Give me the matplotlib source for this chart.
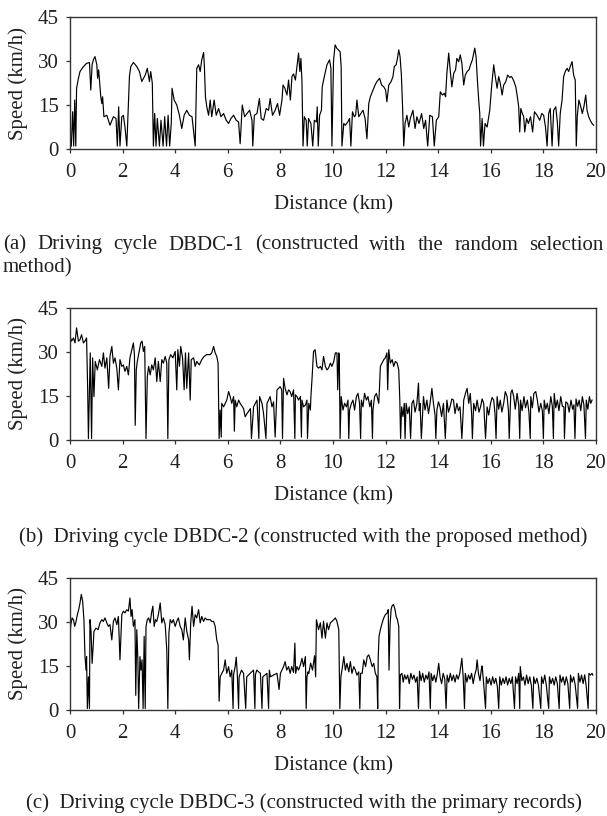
import matplotlib
matplotlib.use("Agg")
import matplotlib.pyplot as plt
import numpy as np

plt.rcParams['font.family'] = ['Liberation Serif', 'DejaVu Serif']

TEXT = '#231f20'
FS = 15

# DBDC-1: random selection method (distance km, speed km/h)
dist_1 = [0.05, 0.10, 0.14, 0.18, 0.22, 0.25, 0.32, 0.38, 0.51, 0.63,
          0.74, 0.79, 0.84, 0.89, 0.95, 1.02, 1.05, 1.09, 1.12, 1.17,
          1.21, 1.24, 1.29, 1.40, 1.52, 1.65, 1.75, 1.80, 1.85, 1.90,
          1.97, 2.03, 2.09, 2.16, 2.22, 2.26, 2.31, 2.41, 2.54, 2.64,
          2.73, 2.86, 2.94, 3.02, 3.07, 3.13, 3.17, 3.22, 3.27, 3.32,
          3.40, 3.46, 3.54, 3.60, 3.67, 3.73, 3.79, 3.85, 3.88, 3.96,
          4.06, 4.16, 4.25, 4.34, 4.44, 4.54, 4.64, 4.76, 4.82, 4.89,
          4.95, 5.01, 5.08, 5.11, 5.15, 5.20, 5.27, 5.33, 5.39, 5.48,
          5.56, 5.65, 5.74, 5.84, 5.94, 6.03, 6.12, 6.22, 6.32, 6.41,
          6.47, 6.55, 6.64, 6.73, 6.83, 6.92, 6.95, 7.01, 7.11, 7.20,
          7.27, 7.36, 7.46, 7.55, 7.61, 7.70, 7.80, 7.89, 7.97, 8.06,
          8.10, 8.17, 8.25, 8.31, 8.38, 8.44, 8.50, 8.57, 8.63, 8.69,
          8.74, 8.78, 8.82, 8.86, 8.91, 8.98, 9.02, 9.07, 9.16, 9.23,
          9.29, 9.37, 9.40, 9.44, 9.49, 9.56, 9.59, 9.67, 9.77, 9.87,
          9.92, 9.96, 10.02, 10.08, 10.14, 10.20, 10.27, 10.31, 10.34, 10.41,
          10.47, 10.56, 10.63, 10.68, 10.74, 10.81, 10.86, 10.91, 10.98, 11.06,
          11.14, 11.22, 11.29, 11.36, 11.42, 11.52, 11.60, 11.67, 11.77, 11.85,
          11.93, 12.00, 12.05, 12.12, 12.21, 12.28, 12.33, 12.40, 12.45, 12.50,
          12.55, 12.60, 12.65, 12.69, 12.74, 12.81, 12.88, 12.94, 13.04, 13.12,
          13.19, 13.27, 13.37, 13.45, 13.52, 13.60, 13.68, 13.78, 13.85, 13.93,
          14.02, 14.08, 14.16, 14.23, 14.28, 14.33, 14.40, 14.46, 14.52, 14.59,
          14.66, 14.71, 14.78, 14.84, 14.90, 14.97, 15.03, 15.10, 15.17, 15.23,
          15.30, 15.35, 15.39, 15.44, 15.49, 15.54, 15.58, 15.61, 15.67, 15.72,
          15.78, 15.86, 15.96, 16.03, 16.11, 16.17, 16.24, 16.30, 16.36, 16.43,
          16.49, 16.57, 16.64, 16.72, 16.79, 16.87, 16.95, 17.01, 17.06, 17.10,
          17.14, 17.20, 17.25, 17.29, 17.36, 17.43, 17.51, 17.59, 17.66, 17.76,
          17.86, 17.94, 18.01, 18.08, 18.14, 18.20, 18.26, 18.33, 18.39, 18.47,
          18.53, 18.58, 18.64, 18.71, 18.77, 18.83, 18.90, 18.96, 19.02, 19.09,
          19.15, 19.21, 19.25, 19.29, 19.35, 19.42, 19.48, 19.54, 19.61, 19.66,
          19.72, 19.78, 19.85, 19.91]
speed_1 = [1, 12.7, 1, 16.7, 1, 20.7, 24.1, 26.4, 28.1, 29.2,
           29.5, 20.1, 28.7, 30.4, 31.5, 28.7, 24.1, 27.0, 23.5, 17.8,
           15.5, 17.8, 11.0, 11.5, 8.1, 11.0, 10.4, 1, 14.4, 1,
           11.0, 11.5, 7.5, 1, 15.5, 24.7, 28.1, 29.5, 28.1, 26.4,
           23.0, 25.2, 27.5, 23.0, 26.4, 22.4, 1, 12.1, 1, 10.4,
           1, 9.8, 1, 11.0, 1, 11.5, 1, 8.7, 20.7, 16.7,
           15.0, 11.5, 7.0, 11.5, 13.2, 11.5, 11.0, 1, 27.5, 28.7,
           26.4, 30.4, 32.9, 28.1, 17.8, 14.4, 11.5, 16.7, 11.0, 16.7,
           11.5, 13.8, 11.0, 12.1, 9.8, 8.7, 10.4, 11.5, 9.8, 9.2,
           1.8, 15.0, 11.0, 12.1, 13.2, 9.8, 1, 11.5, 12.1, 17.2,
           10.4, 9.8, 13.8, 13.2, 17.2, 11.5, 13.2, 15.5, 11.5, 16.7,
           21.8, 20.7, 18.4, 23.5, 16.7, 24.7, 25.6, 23.5, 28.1, 32.7,
           26.4, 30.9, 23.0, 1, 11.0, 9.8, 1, 10.4, 8.7, 1,
           9.8, 9.2, 14.4, 1, 11.5, 13.2, 21.2, 24.7, 28.7, 30.4,
           27.5, 1, 30.0, 35.5, 34.4, 33.8, 33.2, 28.1, 1, 8.7,
           8.1, 9.2, 10.4, 1, 12.7, 11.0, 11.5, 16.7, 11.0, 12.1,
           13.2, 10.4, 3.5, 15.5, 17.8, 20.1, 21.8, 23.0, 24.1, 21.8,
           21.2, 20.1, 16.1, 21.8, 23.0, 24.7, 28.1, 28.7, 30.9, 33.8,
           31.5, 25.2, 13.2, 1, 8.7, 11.5, 7.5, 10.4, 13.2, 7.0,
           11.0, 8.7, 12.1, 7.0, 9.8, 1, 11.5, 11.0, 1, 9.8,
           11.0, 19.5, 18.4, 19.0, 17.8, 25.8, 32.7, 26.4, 21.2, 25.8,
           27.0, 30.9, 29.8, 32.1, 29.2, 21.8, 25.2, 26.4, 27.0, 28.7,
           30.4, 32.7, 34.4, 31.5, 23.5, 16.7, 12.1, 1, 10.4, 1,
           8.7, 7.5, 13.2, 21.2, 28.7, 24.7, 20.7, 24.7, 22.4, 18.4,
           21.8, 23.0, 25.2, 24.4, 24.7, 23.3, 21.2, 17.8, 14.4, 5.8,
           13.8, 12.1, 11.0, 5.8, 10.4, 8.7, 11.0, 5.8, 12.7, 11.5,
           9.8, 12.1, 11.5, 7.5, 1, 12.1, 13.8, 1, 13.2, 14.4,
           9.2, 1, 12.1, 16.7, 24.7, 26.4, 27.5, 26.4, 28.1, 29.8,
           25.2, 23.5, 1, 11.5, 16.7, 14.4, 12.1, 14.4, 18.4, 13.2,
           11.0, 9.8, 8.7, 8.1]

# DBDC-2: proposed method
dist_2 = [0.02, 0.06, 0.13, 0.19, 0.25, 0.32, 0.38, 0.44, 0.51, 0.57,
          0.63, 0.67, 0.70, 0.74, 0.77, 0.82, 0.86, 0.91, 0.96, 1.04,
          1.12, 1.21, 1.27, 1.33, 1.40, 1.47, 1.52, 1.59, 1.65, 1.71,
          1.78, 1.84, 1.90, 1.97, 2.03, 2.09, 2.16, 2.22, 2.28, 2.35,
          2.41, 2.45, 2.48, 2.52, 2.56, 2.64, 2.69, 2.74, 2.79, 2.84,
          2.89, 2.94, 2.99, 3.05, 3.11, 3.17, 3.24, 3.30, 3.36, 3.43,
          3.49, 3.55, 3.62, 3.68, 3.72, 3.76, 3.83, 3.91, 4.00, 4.06,
          4.10, 4.16, 4.21, 4.28, 4.34, 4.39, 4.44, 4.51, 4.57, 4.61,
          4.70, 4.76, 4.82, 4.92, 5.01, 5.10, 5.20, 5.33, 5.39, 5.46,
          5.52, 5.58, 5.63, 5.67, 5.71, 5.75, 5.77, 5.84, 5.96, 6.03,
          6.09, 6.15, 6.22, 6.25, 6.28, 6.34, 6.41, 6.47, 6.60, 6.66,
          6.73, 6.86, 6.90, 6.98, 7.11, 7.18, 7.21, 7.30, 7.36, 7.45,
          7.49, 7.55, 7.61, 7.68, 7.74, 7.80, 7.87, 7.93, 7.99, 8.05,
          8.08, 8.12, 8.18, 8.25, 8.31, 8.37, 8.43, 8.50, 8.55, 8.57,
          8.63, 8.69, 8.76, 8.80, 8.82, 8.88, 8.95, 9.01, 9.03, 9.08,
          9.14, 9.16, 9.20, 9.26, 9.32, 9.39, 9.45, 9.52, 9.58, 9.64,
          9.71, 9.77, 9.83, 9.90, 9.96, 10.03, 10.09, 10.15, 10.18, 10.22,
          10.24, 10.27, 10.31, 10.38, 10.44, 10.51, 10.57, 10.60, 10.63, 10.70,
          10.76, 10.82, 10.89, 10.95, 11.01, 11.05, 11.08, 11.14, 11.20, 11.27,
          11.33, 11.40, 11.46, 11.50, 11.52, 11.58, 11.65, 11.74, 11.77, 11.80,
          11.86, 11.93, 11.99, 12.05, 12.08, 12.12, 12.18, 12.25, 12.31, 12.37,
          12.44, 12.50, 12.54, 12.57, 12.61, 12.66, 12.71, 12.74, 12.78, 12.84,
          12.90, 12.95, 13.00, 13.06, 13.12, 13.19, 13.25, 13.28, 13.31, 13.36,
          13.44, 13.50, 13.57, 13.63, 13.69, 13.76, 13.82, 13.88, 13.91, 13.95,
          14.01, 14.07, 14.13, 14.20, 14.27, 14.33, 14.39, 14.45, 14.52, 14.58,
          14.64, 14.71, 14.77, 14.83, 14.90, 14.97, 15.04, 15.10, 15.16, 15.22,
          15.27, 15.30, 15.35, 15.42, 15.48, 15.55, 15.61, 15.67, 15.73, 15.80,
          15.86, 15.92, 15.99, 16.05, 16.11, 16.16, 16.20, 16.24, 16.30, 16.36,
          16.42, 16.49, 16.55, 16.62, 16.67, 16.70, 16.76, 16.81, 16.87, 16.93,
          17.00, 17.06, 17.10, 17.13, 17.19, 17.26, 17.32, 17.39, 17.45, 17.50,
          17.52, 17.58, 17.64, 17.71, 17.77, 17.83, 17.90, 17.96, 18.00, 18.03,
          18.09, 18.15, 18.21, 18.28, 18.34, 18.38, 18.41, 18.47, 18.53, 18.59,
          18.66, 18.72, 18.78, 18.80, 18.85, 18.92, 18.98, 19.05, 19.11, 19.16,
          19.20, 19.24, 19.30, 19.36, 19.42, 19.48, 19.54, 19.60, 19.63, 19.69,
          19.75, 19.80, 19.85]
speed_2 = [34.8, 33.7, 34.8, 33.1, 38.2, 33.7, 34.2, 35.9, 33.1, 33.7,
           34.8, 18.2, 0.5, 17.6, 29.7, 0.5, 28.0, 14.8, 26.8, 23.9,
           27.4, 25.1, 29.7, 24.5, 28.0, 17.6, 28.5, 31.9, 26.2, 28.0,
           24.5, 17.1, 27.4, 25.1, 25.6, 23.4, 25.1, 22.2, 28.0, 30.8,
           33.1, 29.1, 5.0, 24.0, 26.8, 30.8, 33.1, 33.7, 30.2, 31.9,
           0.5, 21.6, 25.1, 22.2, 25.6, 23.9, 28.0, 19.9, 26.8, 19.9,
           27.4, 26.2, 28.5, 26.2, 0.5, 27.4, 29.1, 28.0, 30.2, 17.1,
           30.8, 25.1, 31.9, 28.0, 17.1, 29.7, 17.6, 29.7, 13.6, 27.4,
           28.0, 25.1, 26.8, 25.6, 27.4, 28.5, 29.1, 29.1, 29.7, 31.9,
           29.7, 28.5, 26.2, 0.5, 10.2, 1.0, 12.5, 11.3, 13.6, 16.5,
           14.8, 12.5, 14.8, 3.0, 13.6, 11.3, 13.6, 12.5, 10.7, 7.9,
           9.0, 10.7, 0.5, 11.3, 13.6, 0.5, 14.8, 12.5, 9.0, 0.5,
           12.5, 13.6, 14.8, 11.3, 13.0, 1.0, 17.1, 17.6, 18.2, 17.1,
           0.5, 21.0, 17.6, 15.4, 17.1, 16.5, 14.8, 17.1, 0.5, 15.4,
           14.8, 13.6, 14.8, 1.0, 13.6, 11.3, 11.9, 13.6, 0.5, 12.5,
           10.2, 14.8, 20.5, 30.2, 30.8, 25.1, 24.5, 25.1, 23.9, 28.5,
           25.1, 23.9, 24.5, 26.2, 25.1, 26.8, 29.7, 29.7, 17.1, 29.7,
           28.5, 0.5, 14.8, 10.2, 12.5, 11.3, 13.6, 0.5, 10.2, 12.5,
           13.6, 10.2, 14.8, 15.9, 12.5, 0.5, 13.6, 11.3, 15.9, 13.6,
           14.8, 11.3, 13.6, 0.5, 10.2, 14.8, 15.9, 12.5, 18.2, 25.1,
           26.2, 27.4, 28.0, 29.7, 17.1, 30.8, 26.2, 27.4, 25.1, 26.8,
           26.2, 23.9, 13.6, 0.5, 11.3, 8.0, 12.5, 0.5, 12.5, 9.0,
           11.3, 0.5, 12.5, 13.6, 9.5, 12.5, 19.4, 10.0, 12.5, 0.5,
           14.8, 10.2, 13.6, 9.0, 12.5, 17.6, 12.5, 8.5, 0.5, 10.2,
           13.0, 11.3, 8.0, 12.5, 0.5, 13.6, 9.5, 11.3, 14.0, 13.6,
           9.0, 12.5, 10.0, 11.3, 0.5, 13.6, 16.0, 17.6, 12.5, 15.9,
           9.0, 0.5, 12.5, 10.0, 13.6, 9.5, 11.3, 14.0, 12.5, 0.5,
           11.3, 8.5, 12.5, 14.5, 13.6, 9.0, 0.5, 14.8, 10.5, 13.6,
           9.5, 12.5, 16.5, 14.8, 10.0, 0.5, 15.9, 17.1, 14.8, 10.5,
           15.9, 12.0, 0.5, 13.6, 10.0, 14.8, 11.0, 13.6, 9.5, 0.5,
           14.8, 11.0, 15.9, 16.5, 13.6, 9.5, 12.5, 10.0, 0.5, 13.6,
           10.5, 12.5, 9.0, 14.8, 11.5, 0.5, 15.9, 11.0, 13.6, 10.0,
           14.8, 11.5, 11.3, 0.5, 13.0, 12.5, 9.5, 13.6, 10.5, 12.0,
           0.5, 14.0, 11.5, 13.6, 10.0, 14.8, 12.0, 0.5, 13.6, 10.5,
           14.8, 12.5, 13.6]

# DBDC-3: primary records
dist_3 = [0.00, 0.03, 0.08, 0.13, 0.18, 0.23, 0.28, 0.33, 0.38, 0.43,
          0.48, 0.53, 0.57, 0.61, 0.63, 0.66, 0.70, 0.74, 0.76, 0.80,
          0.84, 0.88, 0.91, 0.99, 1.07, 1.14, 1.21, 1.27, 1.33, 1.40,
          1.46, 1.52, 1.59, 1.65, 1.71, 1.78, 1.84, 1.90, 1.97, 2.03,
          2.09, 2.16, 2.22, 2.28, 2.32, 2.36, 2.41, 2.47, 2.50, 2.54,
          2.58, 2.61, 2.66, 2.70, 2.74, 2.78, 2.82, 2.86, 2.89, 2.94,
          2.99, 3.05, 3.10, 3.15, 3.20, 3.25, 3.30, 3.36, 3.43, 3.49,
          3.55, 3.62, 3.68, 3.72, 3.76, 3.81, 3.87, 3.93, 4.00, 4.06,
          4.12, 4.19, 4.25, 4.31, 4.38, 4.44, 4.51, 4.54, 4.59, 4.64,
          4.70, 4.76, 4.82, 4.89, 4.95, 5.01, 5.08, 5.14, 5.20, 5.33,
          5.39, 5.46, 5.52, 5.58, 5.63, 5.67, 5.71, 5.77, 5.84, 5.90,
          5.96, 6.03, 6.09, 6.15, 6.20, 6.22, 6.28, 6.32, 6.36, 6.41,
          6.43, 6.52, 6.60, 6.68, 6.72, 6.85, 6.98, 7.03, 7.05, 7.10,
          7.24, 7.30, 7.33, 7.49, 7.55, 7.58, 7.62, 7.75, 7.87, 7.95,
          8.00, 8.12, 8.18, 8.24, 8.31, 8.37, 8.43, 8.50, 8.55, 8.58,
          8.63, 8.69, 8.76, 8.82, 8.88, 8.95, 8.98, 9.01, 9.05, 9.08,
          9.15, 9.22, 9.30, 9.34, 9.37, 9.45, 9.52, 9.58, 9.64, 9.71,
          9.77, 9.83, 9.90, 9.96, 10.03, 10.09, 10.15, 10.22, 10.26, 10.30,
          10.36, 10.41, 10.47, 10.53, 10.60, 10.66, 10.72, 10.79, 10.85, 10.91,
          10.98, 11.02, 11.05, 11.11, 11.17, 11.24, 11.30, 11.36, 11.42, 11.49,
          11.55, 11.61, 11.67, 11.70, 11.72, 11.75, 11.80, 11.87, 11.93, 11.99,
          12.06, 12.10, 12.13, 12.17, 12.21, 12.24, 12.30, 12.36, 12.40, 12.45,
          12.50, 12.53, 12.56, 12.62, 12.67, 12.72, 12.78, 12.84, 12.90, 12.96,
          13.02, 13.08, 13.14, 13.20, 13.25, 13.29, 13.35, 13.41, 13.47, 13.53,
          13.59, 13.65, 13.70, 13.73, 13.79, 13.85, 13.91, 13.97, 14.02, 14.07,
          14.13, 14.19, 14.25, 14.30, 14.34, 14.40, 14.46, 14.52, 14.58, 14.64,
          14.70, 14.76, 14.82, 14.90, 14.95, 15.00, 15.03, 15.09, 15.15, 15.21,
          15.27, 15.33, 15.39, 15.44, 15.48, 15.53, 15.59, 15.64, 15.67, 15.72,
          15.80, 15.83, 15.89, 15.95, 16.01, 16.07, 16.13, 16.19, 16.25, 16.30,
          16.34, 16.40, 16.46, 16.52, 16.58, 16.64, 16.70, 16.76, 16.82, 16.90,
          16.94, 17.00, 17.06, 17.10, 17.12, 17.18, 17.24, 17.30, 17.36, 17.42,
          17.48, 17.54, 17.60, 17.63, 17.69, 17.75, 17.81, 17.90, 17.93, 17.99,
          18.05, 18.11, 18.20, 18.23, 18.29, 18.35, 18.41, 18.47, 18.53, 18.60,
          18.63, 18.69, 18.75, 18.81, 18.87, 18.93, 19.00, 19.03, 19.09, 19.15,
          19.21, 19.30, 19.33, 19.39, 19.45, 19.51, 19.57, 19.63, 19.70, 19.73,
          19.79, 19.85, 19.88]
speed_3 = [25.1, 29.1, 31.4, 30.8, 28.5, 30.2, 32.5, 34.2, 36.5, 39.4,
           37.1, 30.8, 18.2, 13.6, 18.2, 0.5, 11.3, 0.5, 30.8, 26.8,
           15.9, 21.6, 26.8, 27.9, 27.4, 29.7, 30.8, 30.2, 31.4, 29.7,
           28.5, 29.1, 23.9, 30.2, 31.4, 29.1, 31.9, 17.1, 32.5, 33.7,
           33.1, 34.2, 33.7, 38.2, 31.9, 34.2, 28.5, 30.8, 5.0, 27.4,
           17.1, 0.5, 18.2, 13.6, 17.1, 0.5, 25.1, 0.5, 28.5, 30.8,
           31.4, 29.7, 33.1, 35.4, 28.5, 30.8, 30.2, 32.5, 36.5, 29.7,
           31.4, 29.1, 20.5, 0.5, 26.2, 30.8, 29.7, 30.8, 28.5, 30.2,
           31.4, 28.5, 27.4, 23.9, 31.4, 26.8, 23.9, 17.1, 29.7, 35.4,
           28.5, 32.5, 31.4, 34.2, 29.7, 31.9, 30.2, 31.4, 30.8, 30.8,
           30.2, 30.2, 28.5, 23.9, 22.2, 3.0, 11.3, 12.5, 13.6, 17.1,
           12.5, 14.8, 11.3, 13.6, 0.5, 12.0, 14.8, 18.0, 12.5, 0.5,
           11.3, 13.6, 12.5, 0.5, 11.3, 12.5, 13.6, 0.5, 12.0, 13.6,
           12.5, 0.5, 11.3, 12.5, 0.5, 13.6, 11.3, 12.0, 12.5, 7.0,
           12.5, 14.8, 16.5, 13.6, 14.8, 12.5, 14.8, 12.8, 22.8, 12.5,
           14.8, 13.6, 15.4, 17.6, 14.8, 18.2, 0.5, 11.3, 13.0, 12.5,
           16.0, 13.6, 18.5, 11.3, 30.8, 27.4, 29.7, 24.5, 30.2, 24.5,
           29.7, 27.4, 29.7, 30.2, 30.8, 31.4, 30.2, 27.4, 0.5, 11.3,
           14.8, 18.2, 13.6, 15.9, 13.0, 16.5, 12.5, 14.8, 13.6, 11.9,
           13.0, 0.5, 12.5, 12.5, 17.1, 14.8, 18.2, 18.8, 17.1, 14.8,
           15.9, 12.5, 11.3, 0.5, 18.2, 25.1, 27.4, 29.7, 31.4, 32.5,
           33.1, 34.2, 13.6, 29.1, 34.2, 35.4, 36.0, 34.2, 31.9, 30.8,
           28.5, 0.5, 11.9, 12.5, 9.5, 12.0, 10.5, 11.9, 9.0, 12.5,
           10.5, 11.9, 9.5, 11.3, 0.5, 13.2, 10.0, 12.5, 9.5, 11.9,
           10.5, 13.0, 0.5, 12.5, 10.0, 11.9, 9.5, 12.5, 15.9, 11.3,
           9.0, 12.5, 10.5, 0.5, 11.9, 9.5, 12.5, 10.0, 11.9, 9.5,
           12.0, 10.5, 12.5, 17.6, 11.3, 0.5, 12.5, 9.5, 11.9, 10.5,
           12.5, 9.0, 12.0, 13.5, 17.1, 12.5, 10.0, 13.8, 15.0, 10.0,
           0.5, 11.3, 9.0, 10.8, 8.5, 11.3, 9.0, 10.8, 8.0, 0.5,
           11.3, 8.5, 10.8, 9.0, 11.3, 8.5, 10.8, 9.0, 11.3, 0.5,
           11.3, 9.0, 12.5, 0.5, 14.8, 10.0, 11.3, 8.5, 11.9, 9.0,
           11.3, 8.5, 0.5, 11.3, 9.0, 10.8, 8.5, 0.5, 11.3, 9.0,
           11.9, 8.5, 0.5, 11.3, 9.0, 10.8, 8.5, 11.3, 9.0, 0.5,
           11.9, 9.5, 11.3, 8.5, 11.3, 9.0, 0.5, 11.9, 9.5, 11.3,
           8.5, 0.5, 12.5, 9.5, 11.9, 9.0, 12.0, 8.0, 0.5, 12.5,
           11.9, 12.5, 11.9]

cycles = [(dist_1, speed_1), (dist_2, speed_2), (dist_3, speed_3)]

x_ticks = np.arange(0, 21, 2)
y_ticks = [0, 15, 30, 45]

captions = [
    "(a)  Driving cycle DBDC-1 (constructed with the random selection method)",
    "(b)  Driving cycle DBDC-2 (constructed with the proposed method)",
    "(c)  Driving cycle DBDC-3 (constructed with the primary records)",
]

W, H = 607, 816
fig = plt.figure(figsize=(W / 100, H / 100), dpi=100)

# axes boxes in pixels: (left, top, right, bottom)
boxes = [(70, 17, 596, 149), (70, 308, 596, 440), (70, 578, 596, 710)]

for (d, s), (l, t, r, b) in zip(cycles, boxes):
    ax = fig.add_axes([l / W, 1 - b / H, (r - l) / W, (b - t) / H])
    ax.plot(d, s, color='black', lw=0.85)
    ax.set_xlim(0, 20)
    ax.set_ylim(0, 45)
    ax.set_xticks(x_ticks)
    ax.set_yticks(y_ticks)
    for sp in ax.spines.values():
        sp.set_color('#333333')
        sp.set_linewidth(1.0)
    ax.tick_params(direction='out', length=3, width=0.9, color='#333333',
                   labelsize=FS, labelcolor=TEXT, top=False, right=False)
    ax.tick_params(axis='x', pad=7)
    ax.tick_params(axis='y', pad=5)
    ax.set_xlabel('Distance (km)', fontsize=FS, color=TEXT)
    ax.set_ylabel('Speed (km/h)', fontsize=FS, color=TEXT)
    ax.xaxis.set_label_coords(0.5, -0.35)
    ax.yaxis.set_label_coords(-0.08, 0.5)


def justified(fig, text, x0, x1, y, **kw):
    """Spread the words of one line evenly between pixel x0 and x1."""
    words = text.split()
    renderer = fig.canvas.get_renderer()
    items = [fig.text(0, 1 - y / H, w, va='center', ha='left', **kw)
             for w in words]
    widths = [t.get_window_extent(renderer).width for t in items]
    gap = (x1 - x0 - sum(widths)) / (len(words) - 1)
    x = x0
    for t, w in zip(items, widths):
        t.set_x(x / W)
        x += w + gap


cap_kw = dict(fontsize=FS, color=TEXT)
first, last = captions[0].rsplit(' ', 1)
justified(fig, first, 3, 604, 245, **cap_kw)
fig.text(3 / W, 1 - 268 / H, last, va='center', ha='left', **cap_kw)
fig.text(0.5, 1 - 537 / H, captions[1], va='center', ha='center', **cap_kw)
fig.text(0.5, 1 - 803 / H, captions[2], va='center', ha='center', **cap_kw)

fig.savefig('out.png', dpi=100)
